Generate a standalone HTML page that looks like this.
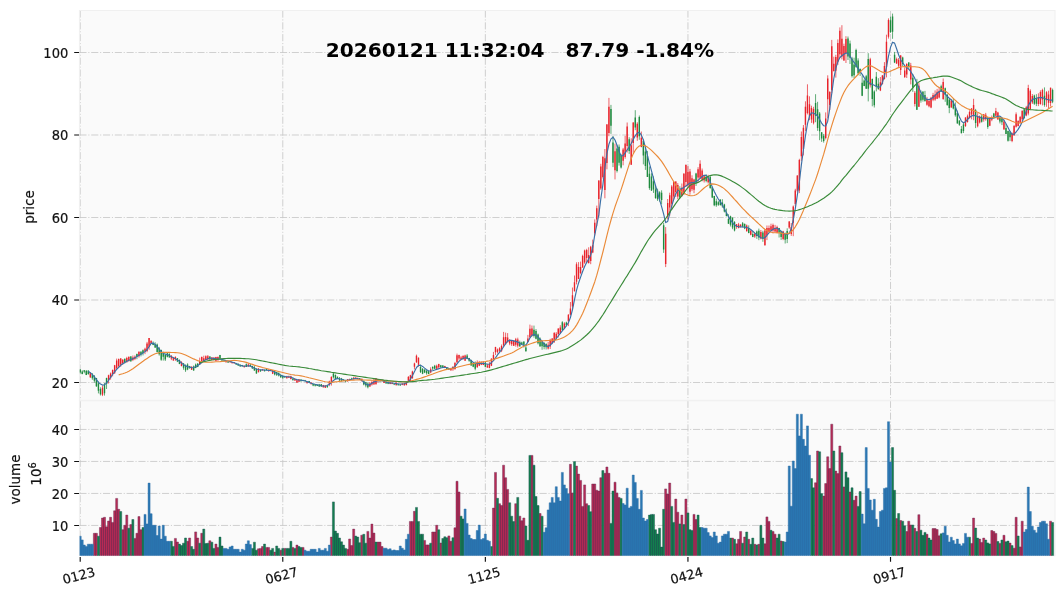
<!DOCTYPE html>
<html><head><meta charset="utf-8"><title>chart</title>
<style>html,body{margin:0;padding:0;background:#fff;}svg{display:block;will-change:transform;}</style>
</head><body>
<svg width="1064" height="598" viewBox="0 0 1064 598">
<rect width="1064" height="598" fill="#ffffff"/>
<rect x="79.4" y="10.5" width="975.6" height="389.8" fill="#fafafa"/>
<rect x="79.4" y="400.8" width="975.6" height="154.9" fill="#fafafa"/>
<path d="M79.4 382.50H1055.0 M79.4 300.00H1055.0 M79.4 217.50H1055.0 M79.4 135.00H1055.0 M79.4 52.50H1055.0 M79.4 525.45H1055.0 M79.4 493.45H1055.0 M79.4 461.45H1055.0 M79.4 429.45H1055.0 M80.20 10.5V400.3 M80.20 400.8V555.7 M282.78 10.5V400.3 M282.78 400.8V555.7 M485.36 10.5V400.3 M485.36 400.8V555.7 M687.94 10.5V400.3 M687.94 400.8V555.7 M890.52 10.5V400.3 M890.52 400.8V555.7" stroke="#c8c8c8" stroke-width="0.85" stroke-dasharray="7.1 1.8 1.1 1.8" fill="none"/>
<rect x="79.4" y="10.5" width="975.6" height="389.8" fill="none" stroke="#f0f0f0" stroke-width="1"/>
<rect x="79.4" y="400.8" width="975.6" height="154.9" fill="none" stroke="#f0f0f0" stroke-width="1"/>
<defs><clipPath id="cp"><rect x="79.6" y="10.5" width="975.4" height="545.2"/></clipPath></defs><g clip-path="url(#cp)">
<path d="M90.33 372.2V378.0M102.48 385.6V396.1M108.56 374.7V383.5M110.59 372.5V379.7M112.61 369.5V376.4M114.64 364.9V373.8M116.66 358.6V368.7M118.69 358.5V367.3M120.72 358.0V366.7M122.74 359.1V364.9M126.79 356.8V362.4M128.82 356.6V361.7M132.87 355.5V361.1M134.90 355.4V360.1M138.95 351.0V357.6M145.03 347.7V354.1M147.05 341.9V352.2M149.08 338.0V349.8M151.10 340.5V344.0M171.36 355.1V360.1M173.39 356.9V360.7M175.41 356.3V360.9M181.49 361.2V366.4M191.62 366.3V370.0M199.72 357.6V364.6M201.75 356.5V363.3M203.77 355.7V361.7M205.80 355.4V360.1M207.83 355.0V360.3M211.88 357.1V360.1M213.90 357.2V360.4M215.93 356.8V361.3M217.95 356.5V361.1M226.06 360.7V362.5M230.11 361.1V362.6M232.13 361.9V363.4M234.16 362.0V363.5M244.29 365.6V367.4M248.34 363.1V366.5M258.47 368.0V372.3M262.52 368.9V370.4M268.60 369.4V371.5M270.63 369.7V371.2M272.65 370.2V374.1M286.83 375.8V378.5M288.86 375.6V378.0M290.88 375.7V379.4M294.93 378.2V381.0M296.96 379.5V382.9M298.99 379.1V382.1M307.09 381.8V383.3M311.14 382.1V384.7M323.30 384.9V387.6M325.32 385.3V387.9M329.37 380.7V386.2M331.40 376.2V385.6M347.61 379.2V381.7M349.63 378.6V380.5M353.68 377.4V379.7M355.71 377.4V378.9M357.73 377.6V379.1M361.79 378.6V381.6M369.89 382.1V386.8M371.92 380.3V385.6M373.94 378.6V384.6M375.97 378.0V384.5M377.99 379.0V382.5M382.04 379.5V381.2M384.07 380.0V383.0M390.15 381.9V384.2M392.17 382.3V384.2M396.22 382.4V385.4M402.30 383.0V385.2M404.33 382.6V385.7M406.35 381.8V385.5M408.38 376.0V381.5M410.41 374.8V381.5M412.43 370.7V378.7M414.46 362.7V369.4M416.48 354.6V362.9M418.51 357.4V366.8M430.66 367.3V373.2M436.74 364.6V369.1M438.77 363.8V369.2M444.84 365.8V368.1M450.92 367.8V370.8M452.95 366.0V370.8M454.97 361.9V369.8M457.00 353.6V363.0M459.02 354.7V360.3M461.05 355.9V359.4M463.08 355.2V359.9M465.10 354.7V360.8M477.26 360.4V368.0M479.28 360.9V366.2M481.31 361.4V365.1M483.33 361.2V365.1M487.39 363.7V367.7M489.41 361.8V368.3M491.44 358.2V366.1M493.46 351.9V360.7M495.49 346.8V355.0M497.51 348.5V353.5M499.54 347.2V352.2M501.57 344.5V352.1M503.59 331.9V346.8M505.62 332.6V344.4M507.64 333.1V342.4M509.67 339.3V345.2M511.70 340.2V346.0M513.72 340.5V346.0M515.75 337.9V346.7M517.77 337.7V347.5M527.90 334.9V342.2M529.93 324.6V338.0M531.95 325.5V336.5M548.16 341.8V349.5M550.19 338.8V349.0M552.21 338.2V344.2M554.24 332.1V342.9M556.26 332.1V339.3M558.29 328.4V337.5M560.31 325.2V333.7M564.37 322.2V329.2M568.42 314.2V326.1M570.44 302.0V315.5M572.47 287.5V309.1M574.50 275.5V291.4M576.52 262.3V284.4M578.55 262.1V279.1M580.57 261.6V274.3M582.60 254.7V268.0M584.62 249.6V263.8M586.65 248.8V263.4M588.68 247.3V263.6M590.70 245.8V264.2M592.73 239.6V253.2M594.75 219.4V235.5M596.78 205.6V226.1M598.80 180.3V216.8M600.83 163.8V189.9M602.86 155.8V178.5M604.88 149.0V198.3M606.91 124.0V169.3M608.93 97.9V136.2M615.01 143.7V179.4M623.11 147.9V165.3M625.14 135.8V158.7M627.17 122.5V152.5M631.22 138.3V164.8M633.24 122.3V152.7M637.29 122.2V140.8M641.35 131.5V147.3M665.66 227.1V267.1M667.68 199.0V219.4M669.71 192.7V215.6M671.73 185.1V210.0M673.76 181.5V199.4M675.79 181.3V197.0M677.81 183.1V199.2M681.86 183.5V196.6M683.89 173.1V195.1M685.91 164.3V186.9M687.94 166.1V188.2M689.97 168.9V194.6M691.99 175.3V191.1M694.02 178.8V193.2M698.07 167.2V182.0M700.09 160.3V179.2M702.12 168.5V181.3M704.15 174.9V182.5M708.20 174.8V183.6M736.56 224.0V228.8M738.59 222.9V228.4M740.61 224.1V227.5M746.69 224.5V231.5M750.74 230.1V235.3M754.79 232.4V237.9M760.87 230.0V239.4M764.92 229.0V245.6M766.95 225.5V240.1M768.97 225.5V232.8M771.00 223.7V231.9M773.02 223.6V233.5M775.05 224.9V232.9M777.08 225.7V233.4M783.15 230.8V240.2M789.23 221.1V228.8M791.26 223.0V235.9M793.28 205.5V236.2M795.31 188.8V206.1M797.33 175.3V192.3M799.36 158.8V193.1M801.38 131.5V160.9M803.41 125.0V155.4M805.44 101.3V131.1M807.46 84.3V114.4M809.49 96.3V120.2M811.51 105.7V122.9M813.54 106.8V124.4M825.69 112.4V139.4M827.72 75.3V118.3M829.75 91.1V110.0M831.77 39.9V93.3M833.80 56.7V71.2M835.82 54.8V77.6M837.85 39.4V64.9M839.88 27.4V58.0M841.90 25.2V59.4M843.93 43.7V60.8M845.95 36.2V63.0M870.26 57.8V87.5M880.39 77.0V91.1M882.42 75.0V84.6M884.44 62.1V79.6M886.47 34.7V77.4M888.49 18.4V38.6M896.60 57.6V63.9M898.62 58.0V67.7M900.65 55.0V75.0M904.70 67.3V78.0M906.73 63.2V78.0M910.78 62.9V84.4M914.83 91.0V106.5M918.88 83.1V106.9M926.98 96.9V105.7M929.01 99.1V107.3M931.04 96.8V108.2M933.06 92.9V101.2M935.09 90.4V100.8M937.11 88.9V98.9M939.14 87.2V98.4M943.19 78.5V99.8M951.29 98.9V107.7M965.47 117.3V126.9M967.50 114.6V122.6M969.53 110.3V118.5M971.55 108.1V119.4M973.58 98.8V120.2M977.63 113.2V127.4M979.66 115.5V123.5M983.71 114.1V121.7M985.73 112.9V120.7M989.78 118.2V126.1M991.81 115.5V121.2M995.86 107.9V116.5M997.89 111.8V119.7M1003.96 119.5V129.5M1012.07 132.5V142.2M1014.09 125.0V135.8M1016.12 112.4V127.6M1018.15 120.7V126.5M1020.17 115.9V123.6M1022.20 110.5V121.6M1026.25 105.9V116.3M1028.27 84.8V115.3M1030.30 89.3V110.0M1032.33 94.0V104.0M1038.40 93.3V106.1M1040.43 90.3V104.7M1042.45 88.7V105.4M1046.51 91.2V106.8M1048.53 90.7V108.1M1050.56 87.6V106.5" stroke="#e8232b" stroke-width="0.7" fill="none"/>
<path d="M80.20 369.3V373.6M82.23 370.3V374.3M84.25 370.2V373.3M86.28 370.2V375.1M88.30 370.6V374.8M92.35 373.1V379.8M94.38 375.0V382.6M96.41 377.9V386.9M98.43 381.5V393.4M100.46 387.3V395.5M104.51 383.0V395.6M106.54 377.7V389.0M124.77 358.6V363.5M130.84 356.1V361.8M136.92 353.6V359.2M140.97 351.2V356.4M143.00 349.4V355.4M153.13 341.4V345.2M155.15 342.2V348.0M157.18 343.5V352.6M159.21 346.9V355.6M161.23 349.6V360.8M163.26 351.7V360.6M165.28 353.4V361.0M167.31 352.6V357.4M169.34 353.4V357.5M177.44 358.0V362.1M179.46 359.4V364.2M183.52 363.1V369.7M185.54 364.4V371.9M187.57 363.3V370.2M189.59 365.9V368.8M193.64 365.5V370.7M195.67 363.5V368.2M197.70 363.0V367.2M209.85 356.2V359.9M219.98 354.9V359.4M222.01 358.6V361.0M224.03 360.0V361.7M228.08 360.9V363.0M236.19 362.9V364.9M238.21 363.6V365.9M240.24 364.2V366.6M242.26 364.9V366.4M246.32 363.4V367.0M250.37 364.0V366.5M252.39 365.7V368.7M254.42 365.5V370.8M256.44 368.1V373.7M260.50 369.3V371.9M264.55 369.5V371.4M266.57 369.0V370.5M274.68 371.0V375.4M276.70 371.9V376.0M278.73 372.7V376.5M280.75 373.8V377.9M282.78 375.3V378.8M284.81 375.8V377.9M292.91 377.6V380.4M301.01 379.5V381.9M303.04 379.7V381.2M305.06 379.9V381.4M309.12 380.9V382.4M313.17 383.9V386.2M315.19 384.0V386.5M317.22 384.6V386.1M319.24 383.9V386.9M321.27 384.0V386.8M327.35 384.7V387.7M333.42 373.0V378.5M335.45 374.4V379.3M337.48 376.6V379.0M339.50 377.0V380.9M341.53 377.9V381.6M343.55 379.3V380.8M345.58 380.1V382.2M351.66 377.7V379.8M359.76 378.0V380.0M363.81 380.7V385.3M365.84 381.8V387.3M367.86 382.6V388.4M380.02 379.9V381.4M386.10 380.9V383.6M388.12 381.5V384.2M394.20 383.4V385.1M398.25 383.7V385.4M400.28 384.0V385.7M420.53 364.6V373.0M422.56 368.0V374.2M424.59 369.6V373.1M426.61 370.5V374.7M428.64 370.7V374.1M432.69 366.6V370.1M434.71 364.9V368.9M440.79 364.9V367.9M442.82 365.1V368.1M446.87 367.0V369.3M448.90 368.2V369.9M467.13 354.1V359.2M469.15 357.9V361.8M471.18 359.6V365.7M473.21 362.3V367.2M475.23 361.4V370.3M485.36 361.8V367.0M519.80 340.7V346.9M521.82 341.7V345.0M523.85 341.5V347.5M525.88 344.2V351.6M533.98 325.6V337.6M536.00 329.1V339.3M538.03 333.6V344.4M540.06 337.4V346.9M542.08 340.5V349.8M544.11 342.1V349.3M546.13 343.2V349.5M562.34 321.2V330.9M566.39 321.7V326.2M610.96 104.9V133.9M612.99 136.0V167.1M617.04 144.9V172.5M619.06 144.5V165.6M621.09 153.9V168.5M629.19 137.2V153.9M635.27 110.2V130.2M639.32 115.5V139.8M643.37 139.4V164.4M645.40 145.5V169.9M647.42 150.9V176.9M649.45 166.5V189.8M651.48 173.2V191.0M653.50 176.4V192.9M655.53 185.3V198.8M657.55 188.6V200.9M659.58 191.2V201.6M661.60 190.3V204.3M663.63 222.8V252.9M679.84 186.2V198.5M696.04 172.8V186.0M706.17 174.3V182.3M710.22 175.1V188.8M712.25 186.4V198.1M714.28 195.8V206.2M716.30 198.6V206.8M718.33 200.8V205.9M720.35 199.1V205.7M722.38 199.2V207.8M724.40 203.8V212.4M726.43 208.5V216.4M728.46 214.2V223.8M730.48 215.7V226.5M732.51 217.5V229.2M734.53 221.1V231.4M742.64 222.0V227.5M744.66 223.4V229.2M748.71 225.4V233.3M752.77 231.0V237.2M756.82 230.5V238.9M758.84 228.6V240.2M762.89 230.8V241.8M779.10 227.9V237.5M781.13 230.8V239.9M785.18 232.6V243.5M787.20 228.3V243.1M815.57 94.2V122.2M817.59 101.8V130.8M819.62 112.0V140.2M821.64 132.2V141.9M823.67 133.9V142.6M847.98 36.5V60.0M850.00 40.6V64.0M852.03 56.8V77.5M854.06 57.7V78.0M856.08 48.7V67.8M858.11 58.3V75.2M860.13 68.4V76.0M862.16 75.4V96.1M864.18 79.2V86.2M866.21 74.9V88.8M868.24 53.2V101.4M872.29 78.5V106.3M874.31 90.3V107.5M876.34 72.0V91.4M878.37 78.2V89.8M890.52 16.7V32.9M892.55 13.6V38.8M894.57 51.9V63.1M902.67 56.7V66.2M908.75 62.1V69.6M912.80 74.2V91.9M916.86 78.9V110.0M920.91 90.4V102.7M922.93 91.1V101.6M924.96 90.9V101.3M941.16 84.7V91.4M945.22 87.6V101.8M947.24 94.1V105.8M949.27 98.6V113.2M953.32 98.3V109.4M955.35 102.4V116.7M957.37 110.6V123.5M959.40 120.4V125.8M961.42 126.0V133.3M963.45 122.9V133.0M975.60 108.9V128.1M981.68 115.0V122.6M987.76 117.0V128.8M993.84 112.9V118.4M999.91 116.2V123.4M1001.94 117.4V125.1M1005.99 124.0V134.0M1008.02 130.6V141.6M1010.04 130.9V141.1M1024.22 108.2V118.4M1034.35 94.7V104.9M1036.38 94.2V106.1M1044.48 87.4V106.7M1052.58 88.6V103.2" stroke="#1e8a3e" stroke-width="0.7" fill="none"/>
<path d="M89.63 373.1h1.4V377.2h-1.4zM101.78 387.7h1.4V394.8h-1.4zM107.86 375.3h1.4V380.3h-1.4zM109.89 373.5h1.4V377.8h-1.4zM111.91 369.9h1.4V373.9h-1.4zM113.94 365.3h1.4V373.2h-1.4zM115.96 360.5h1.4V368.6h-1.4zM117.99 358.9h1.4V366.2h-1.4zM120.02 358.6h1.4V364.8h-1.4zM122.04 359.8h1.4V362.9h-1.4zM126.09 357.9h1.4V362.2h-1.4zM128.12 356.8h1.4V360.9h-1.4zM132.17 357.4h1.4V360.0h-1.4zM134.20 356.7h1.4V358.9h-1.4zM138.25 351.9h1.4V356.2h-1.4zM144.33 348.7h1.4V351.6h-1.4zM146.35 343.6h1.4V351.1h-1.4zM148.38 338.1h1.4V346.7h-1.4zM150.40 340.7h1.4V343.2h-1.4zM170.66 355.8h1.4V358.4h-1.4zM172.69 357.5h1.4V360.6h-1.4zM174.71 357.0h1.4V359.3h-1.4zM180.79 362.1h1.4V366.1h-1.4zM190.92 366.7h1.4V369.8h-1.4zM199.02 361.0h1.4V364.3h-1.4zM201.05 356.9h1.4V360.9h-1.4zM203.07 358.3h1.4V361.1h-1.4zM205.10 356.3h1.4V360.0h-1.4zM207.13 356.2h1.4V359.6h-1.4zM211.18 357.4h1.4V359.9h-1.4zM213.20 357.8h1.4V360.0h-1.4zM215.23 357.0h1.4V360.7h-1.4zM217.25 357.1h1.4V359.9h-1.4zM225.36 361.3h1.4V362.3h-1.4zM229.41 361.5h1.4V362.3h-1.4zM231.44 362.1h1.4V363.3h-1.4zM233.46 362.1h1.4V363.2h-1.4zM243.59 365.8h1.4V367.2h-1.4zM247.64 364.4h1.4V366.5h-1.4zM257.77 368.8h1.4V372.2h-1.4zM261.82 369.6h1.4V370.4h-1.4zM267.90 369.8h1.4V371.2h-1.4zM269.93 369.9h1.4V370.7h-1.4zM271.95 370.3h1.4V373.7h-1.4zM286.13 376.4h1.4V378.2h-1.4zM288.16 376.7h1.4V377.8h-1.4zM290.18 376.2h1.4V379.0h-1.4zM294.23 379.0h1.4V380.5h-1.4zM296.26 380.2h1.4V382.6h-1.4zM298.29 379.3h1.4V381.8h-1.4zM306.39 382.2h1.4V383.2h-1.4zM310.44 382.4h1.4V383.8h-1.4zM322.60 385.1h1.4V387.3h-1.4zM324.62 385.6h1.4V387.7h-1.4zM328.67 381.4h1.4V384.2h-1.4zM330.70 377.0h1.4V383.1h-1.4zM346.91 379.2h1.4V381.2h-1.4zM348.93 379.4h1.4V380.4h-1.4zM352.98 377.6h1.4V379.3h-1.4zM355.01 377.6h1.4V378.7h-1.4zM357.03 378.0h1.4V379.0h-1.4zM361.09 378.7h1.4V380.3h-1.4zM369.19 383.4h1.4V386.6h-1.4zM371.22 381.9h1.4V384.5h-1.4zM373.24 381.2h1.4V384.5h-1.4zM375.27 378.5h1.4V384.2h-1.4zM377.29 379.1h1.4V381.1h-1.4zM381.34 379.8h1.4V380.6h-1.4zM383.37 380.3h1.4V382.9h-1.4zM389.45 382.6h1.4V384.1h-1.4zM391.47 383.1h1.4V384.1h-1.4zM395.52 382.6h1.4V385.2h-1.4zM401.60 383.7h1.4V384.8h-1.4zM403.63 383.3h1.4V385.3h-1.4zM405.65 381.9h1.4V385.0h-1.4zM407.68 377.1h1.4V380.8h-1.4zM409.71 375.2h1.4V380.7h-1.4zM411.73 371.6h1.4V378.2h-1.4zM413.76 363.4h1.4V366.8h-1.4zM415.78 355.8h1.4V362.3h-1.4zM417.81 357.7h1.4V364.8h-1.4zM429.96 369.2h1.4V372.4h-1.4zM436.04 365.8h1.4V368.8h-1.4zM438.07 363.9h1.4V367.3h-1.4zM444.14 366.1h1.4V367.7h-1.4zM450.22 368.0h1.4V370.3h-1.4zM452.25 367.0h1.4V369.2h-1.4zM454.27 363.1h1.4V368.9h-1.4zM456.30 355.2h1.4V362.2h-1.4zM458.32 355.0h1.4V358.5h-1.4zM460.35 357.5h1.4V359.2h-1.4zM462.38 356.1h1.4V358.8h-1.4zM464.40 355.6h1.4V360.7h-1.4zM476.56 362.2h1.4V367.1h-1.4zM478.58 362.7h1.4V365.8h-1.4zM480.61 362.8h1.4V364.8h-1.4zM482.63 362.7h1.4V365.0h-1.4zM486.69 365.4h1.4V367.6h-1.4zM488.71 364.0h1.4V368.1h-1.4zM490.74 358.8h1.4V365.8h-1.4zM492.76 355.0h1.4V358.9h-1.4zM494.79 347.0h1.4V352.2h-1.4zM496.81 349.6h1.4V352.0h-1.4zM498.84 348.3h1.4V350.7h-1.4zM500.87 346.0h1.4V350.7h-1.4zM502.89 337.3h1.4V345.4h-1.4zM504.92 337.0h1.4V344.2h-1.4zM506.94 337.4h1.4V342.3h-1.4zM508.97 339.8h1.4V343.4h-1.4zM511.00 340.9h1.4V344.2h-1.4zM513.02 340.8h1.4V345.8h-1.4zM515.05 339.3h1.4V344.7h-1.4zM517.07 339.4h1.4V345.8h-1.4zM527.20 338.5h1.4V342.1h-1.4zM529.23 328.7h1.4V337.2h-1.4zM531.25 328.4h1.4V335.4h-1.4zM547.46 344.8h1.4V348.4h-1.4zM549.49 340.0h1.4V346.5h-1.4zM551.51 338.4h1.4V343.3h-1.4zM553.54 333.0h1.4V341.4h-1.4zM555.56 333.7h1.4V338.0h-1.4zM557.59 328.4h1.4V334.3h-1.4zM559.61 327.4h1.4V333.2h-1.4zM563.67 323.4h1.4V328.7h-1.4zM567.72 314.7h1.4V321.3h-1.4zM569.74 308.6h1.4V314.7h-1.4zM571.77 295.2h1.4V306.6h-1.4zM573.80 282.2h1.4V291.3h-1.4zM575.82 264.3h1.4V281.8h-1.4zM577.85 267.0h1.4V279.0h-1.4zM579.87 267.0h1.4V272.9h-1.4zM581.90 256.0h1.4V267.2h-1.4zM583.92 250.6h1.4V262.5h-1.4zM585.95 250.1h1.4V258.1h-1.4zM587.98 255.1h1.4V263.0h-1.4zM590.00 246.7h1.4V261.0h-1.4zM592.03 245.3h1.4V252.5h-1.4zM594.05 222.7h1.4V233.3h-1.4zM596.08 208.3h1.4V219.5h-1.4zM598.10 180.6h1.4V199.1h-1.4zM600.13 166.5h1.4V188.6h-1.4zM602.16 157.0h1.4V176.9h-1.4zM604.18 158.2h1.4V190.1h-1.4zM606.21 124.5h1.4V163.0h-1.4zM608.23 106.7h1.4V133.0h-1.4zM614.31 151.3h1.4V170.2h-1.4zM622.41 149.5h1.4V160.7h-1.4zM624.44 143.6h1.4V156.9h-1.4zM626.47 126.6h1.4V145.9h-1.4zM630.52 145.3h1.4V164.7h-1.4zM632.54 122.5h1.4V142.9h-1.4zM636.59 123.8h1.4V137.5h-1.4zM640.65 137.8h1.4V146.9h-1.4zM664.96 233.8h1.4V263.9h-1.4zM666.98 203.0h1.4V216.4h-1.4zM669.01 195.3h1.4V207.6h-1.4zM671.03 186.6h1.4V203.7h-1.4zM673.06 181.7h1.4V196.5h-1.4zM675.09 181.5h1.4V192.1h-1.4zM677.11 184.9h1.4V196.4h-1.4zM681.16 187.8h1.4V195.8h-1.4zM683.19 173.8h1.4V192.9h-1.4zM685.21 165.0h1.4V182.0h-1.4zM687.24 171.8h1.4V185.6h-1.4zM689.27 171.4h1.4V191.7h-1.4zM691.29 178.3h1.4V189.2h-1.4zM693.32 179.5h1.4V189.8h-1.4zM697.37 169.3h1.4V177.4h-1.4zM699.39 163.7h1.4V177.8h-1.4zM701.42 170.4h1.4V179.7h-1.4zM703.45 176.2h1.4V180.4h-1.4zM707.50 177.5h1.4V182.3h-1.4zM735.86 224.3h1.4V226.7h-1.4zM737.88 224.6h1.4V227.9h-1.4zM739.91 224.7h1.4V226.4h-1.4zM745.99 225.6h1.4V231.2h-1.4zM750.04 230.8h1.4V234.8h-1.4zM754.09 233.8h1.4V236.6h-1.4zM760.17 231.9h1.4V238.5h-1.4zM764.22 230.5h1.4V245.2h-1.4zM766.25 228.0h1.4V235.0h-1.4zM768.27 227.9h1.4V232.1h-1.4zM770.30 226.2h1.4V230.3h-1.4zM772.32 225.1h1.4V230.5h-1.4zM774.35 227.9h1.4V231.5h-1.4zM776.38 227.0h1.4V232.7h-1.4zM782.45 231.5h1.4V239.0h-1.4zM788.53 221.6h1.4V227.6h-1.4zM790.56 226.9h1.4V234.0h-1.4zM792.58 206.4h1.4V222.8h-1.4zM794.61 190.5h1.4V204.1h-1.4zM796.63 175.6h1.4V190.8h-1.4zM798.66 160.0h1.4V190.4h-1.4zM800.68 137.0h1.4V156.3h-1.4zM802.71 127.7h1.4V149.2h-1.4zM804.74 106.8h1.4V124.8h-1.4zM806.76 95.4h1.4V113.0h-1.4zM808.79 104.2h1.4V116.2h-1.4zM810.81 107.9h1.4V119.6h-1.4zM812.84 109.0h1.4V122.7h-1.4zM824.99 118.4h1.4V138.0h-1.4zM827.02 78.6h1.4V99.2h-1.4zM829.05 91.9h1.4V104.9h-1.4zM831.07 46.2h1.4V90.3h-1.4zM833.10 63.7h1.4V71.2h-1.4zM835.12 56.9h1.4V70.8h-1.4zM837.15 43.1h1.4V61.8h-1.4zM839.17 30.7h1.4V54.3h-1.4zM841.20 38.8h1.4V56.5h-1.4zM843.23 45.9h1.4V60.6h-1.4zM845.25 38.9h1.4V53.0h-1.4zM869.56 59.3h1.4V85.2h-1.4zM879.69 82.3h1.4V90.5h-1.4zM881.72 75.5h1.4V84.1h-1.4zM883.74 66.0h1.4V79.1h-1.4zM885.77 41.7h1.4V67.3h-1.4zM887.79 20.0h1.4V36.7h-1.4zM895.90 59.0h1.4V63.6h-1.4zM897.92 59.7h1.4V65.8h-1.4zM899.95 55.4h1.4V70.1h-1.4zM904.00 70.4h1.4V77.1h-1.4zM906.03 64.1h1.4V74.4h-1.4zM910.08 65.5h1.4V79.5h-1.4zM914.13 92.8h1.4V104.1h-1.4zM918.18 85.7h1.4V106.7h-1.4zM926.28 98.9h1.4V104.8h-1.4zM928.31 101.1h1.4V106.3h-1.4zM930.34 97.7h1.4V107.5h-1.4zM932.36 95.1h1.4V99.8h-1.4zM934.39 94.6h1.4V99.6h-1.4zM936.41 91.7h1.4V98.7h-1.4zM938.44 90.7h1.4V97.5h-1.4zM942.49 82.0h1.4V99.0h-1.4zM950.59 100.4h1.4V107.6h-1.4zM964.77 117.5h1.4V126.1h-1.4zM966.80 116.3h1.4V121.9h-1.4zM968.83 111.9h1.4V118.1h-1.4zM970.85 108.6h1.4V114.4h-1.4zM972.88 105.1h1.4V115.8h-1.4zM976.93 116.5h1.4V126.3h-1.4zM978.96 116.3h1.4V122.6h-1.4zM983.01 114.3h1.4V119.4h-1.4zM985.03 114.8h1.4V119.3h-1.4zM989.08 118.8h1.4V125.8h-1.4zM991.11 116.9h1.4V119.8h-1.4zM995.16 110.9h1.4V115.7h-1.4zM997.19 112.4h1.4V119.4h-1.4zM1003.26 121.6h1.4V129.4h-1.4zM1011.37 133.5h1.4V141.1h-1.4zM1013.39 125.9h1.4V135.2h-1.4zM1015.42 114.3h1.4V126.7h-1.4zM1017.45 120.8h1.4V125.9h-1.4zM1019.47 117.0h1.4V122.8h-1.4zM1021.50 110.7h1.4V119.2h-1.4zM1025.55 107.2h1.4V115.6h-1.4zM1027.57 87.9h1.4V113.4h-1.4zM1029.60 90.7h1.4V108.9h-1.4zM1031.63 96.0h1.4V102.4h-1.4zM1037.70 97.0h1.4V103.9h-1.4zM1039.73 92.1h1.4V104.0h-1.4zM1041.75 89.9h1.4V99.6h-1.4zM1045.81 92.3h1.4V100.3h-1.4zM1047.83 94.5h1.4V102.8h-1.4zM1049.86 87.8h1.4V102.9h-1.4z" fill="#e8232b"/>
<path d="M79.50 369.4h1.4V372.6h-1.4zM81.53 371.5h1.4V373.9h-1.4zM83.55 370.3h1.4V371.8h-1.4zM85.58 370.7h1.4V375.1h-1.4zM87.60 370.6h1.4V374.1h-1.4zM91.65 374.5h1.4V378.2h-1.4zM93.68 376.3h1.4V380.7h-1.4zM95.71 378.1h1.4V386.2h-1.4zM97.73 383.2h1.4V390.8h-1.4zM99.76 388.9h1.4V394.3h-1.4zM103.81 384.4h1.4V393.3h-1.4zM105.84 378.0h1.4V383.9h-1.4zM124.07 358.7h1.4V362.6h-1.4zM130.15 356.6h1.4V361.2h-1.4zM136.22 354.0h1.4V356.6h-1.4zM140.27 351.7h1.4V354.3h-1.4zM142.30 350.2h1.4V353.0h-1.4zM152.43 342.9h1.4V345.0h-1.4zM154.45 344.4h1.4V347.4h-1.4zM156.48 344.5h1.4V352.1h-1.4zM158.51 348.5h1.4V354.3h-1.4zM160.53 350.0h1.4V359.8h-1.4zM162.56 352.7h1.4V356.7h-1.4zM164.58 355.1h1.4V359.4h-1.4zM166.61 353.2h1.4V356.8h-1.4zM168.64 353.8h1.4V357.5h-1.4zM176.74 358.3h1.4V361.6h-1.4zM178.76 359.9h1.4V364.1h-1.4zM182.82 363.5h1.4V367.7h-1.4zM184.84 365.6h1.4V370.2h-1.4zM186.87 364.5h1.4V369.6h-1.4zM188.89 366.0h1.4V367.5h-1.4zM192.94 366.6h1.4V370.4h-1.4zM194.97 364.4h1.4V368.1h-1.4zM197.00 363.7h1.4V367.1h-1.4zM209.15 356.4h1.4V359.3h-1.4zM219.28 355.0h1.4V358.4h-1.4zM221.31 359.4h1.4V360.6h-1.4zM223.33 360.4h1.4V361.3h-1.4zM227.38 361.4h1.4V362.6h-1.4zM235.49 363.5h1.4V364.6h-1.4zM237.51 363.7h1.4V365.4h-1.4zM239.54 364.9h1.4V366.4h-1.4zM241.56 365.3h1.4V366.3h-1.4zM245.62 364.2h1.4V367.0h-1.4zM249.67 364.7h1.4V366.3h-1.4zM251.69 365.9h1.4V368.6h-1.4zM253.72 367.3h1.4V370.4h-1.4zM255.74 369.1h1.4V373.6h-1.4zM259.80 370.0h1.4V371.3h-1.4zM263.85 369.9h1.4V371.3h-1.4zM265.87 369.1h1.4V370.1h-1.4zM273.98 371.3h1.4V374.4h-1.4zM276.00 371.9h1.4V374.8h-1.4zM278.03 372.8h1.4V375.5h-1.4zM280.05 375.2h1.4V377.3h-1.4zM282.08 375.8h1.4V377.8h-1.4zM284.11 376.0h1.4V377.3h-1.4zM292.21 378.8h1.4V380.2h-1.4zM300.31 379.6h1.4V380.7h-1.4zM302.34 380.0h1.4V380.8h-1.4zM304.36 379.9h1.4V380.8h-1.4zM308.42 381.0h1.4V382.0h-1.4zM312.47 384.0h1.4V385.5h-1.4zM314.49 384.0h1.4V385.7h-1.4zM316.52 384.7h1.4V386.0h-1.4zM318.54 384.6h1.4V386.6h-1.4zM320.57 384.3h1.4V386.5h-1.4zM326.65 385.5h1.4V387.3h-1.4zM332.72 373.7h1.4V377.3h-1.4zM334.75 375.1h1.4V379.1h-1.4zM336.78 376.7h1.4V378.7h-1.4zM338.80 378.8h1.4V380.6h-1.4zM340.83 378.6h1.4V380.8h-1.4zM342.85 379.5h1.4V380.8h-1.4zM344.88 380.5h1.4V381.6h-1.4zM350.96 378.5h1.4V379.7h-1.4zM359.06 378.2h1.4V379.4h-1.4zM363.11 380.8h1.4V384.4h-1.4zM365.14 382.3h1.4V385.5h-1.4zM367.16 383.5h1.4V387.3h-1.4zM379.32 379.9h1.4V381.2h-1.4zM385.40 381.5h1.4V383.4h-1.4zM387.42 382.2h1.4V383.8h-1.4zM393.50 383.6h1.4V384.5h-1.4zM397.55 384.2h1.4V385.3h-1.4zM399.58 384.4h1.4V385.6h-1.4zM419.83 367.0h1.4V372.1h-1.4zM421.86 369.0h1.4V373.8h-1.4zM423.89 369.6h1.4V372.6h-1.4zM425.91 370.6h1.4V373.3h-1.4zM427.94 371.2h1.4V374.0h-1.4zM431.99 366.8h1.4V368.5h-1.4zM434.01 365.8h1.4V368.7h-1.4zM440.09 365.3h1.4V367.3h-1.4zM442.12 365.6h1.4V368.0h-1.4zM446.17 367.2h1.4V369.1h-1.4zM448.20 368.5h1.4V369.7h-1.4zM466.43 355.5h1.4V359.1h-1.4zM468.45 358.1h1.4V360.7h-1.4zM470.48 360.1h1.4V365.4h-1.4zM472.51 363.3h1.4V366.7h-1.4zM474.53 363.0h1.4V368.8h-1.4zM484.66 362.6h1.4V366.8h-1.4zM519.10 342.2h1.4V346.2h-1.4zM521.12 342.6h1.4V344.3h-1.4zM523.15 341.6h1.4V344.7h-1.4zM525.18 347.5h1.4V351.2h-1.4zM533.28 329.7h1.4V336.0h-1.4zM535.30 331.0h1.4V338.8h-1.4zM537.33 334.6h1.4V343.3h-1.4zM539.36 338.7h1.4V346.2h-1.4zM541.38 341.8h1.4V346.3h-1.4zM543.41 343.1h1.4V347.1h-1.4zM545.43 344.1h1.4V347.3h-1.4zM561.64 322.2h1.4V330.0h-1.4zM565.69 322.5h1.4V325.2h-1.4zM610.26 108.9h1.4V125.8h-1.4zM612.29 142.4h1.4V162.8h-1.4zM616.34 148.4h1.4V171.1h-1.4zM618.36 146.8h1.4V162.7h-1.4zM620.39 155.4h1.4V167.4h-1.4zM628.49 139.2h1.4V151.0h-1.4zM634.57 117.5h1.4V127.6h-1.4zM638.62 117.1h1.4V136.3h-1.4zM642.67 141.0h1.4V155.4h-1.4zM644.70 151.5h1.4V166.1h-1.4zM646.72 155.7h1.4V176.9h-1.4zM648.75 173.8h1.4V187.9h-1.4zM650.78 176.4h1.4V190.5h-1.4zM652.80 181.3h1.4V189.4h-1.4zM654.83 189.4h1.4V198.0h-1.4zM656.85 190.8h1.4V199.2h-1.4zM658.88 192.2h1.4V198.8h-1.4zM660.90 192.8h1.4V199.9h-1.4zM662.93 225.3h1.4V249.5h-1.4zM679.14 188.9h1.4V197.6h-1.4zM695.34 173.6h1.4V182.7h-1.4zM705.47 176.8h1.4V180.9h-1.4zM709.52 177.0h1.4V188.0h-1.4zM711.55 187.2h1.4V197.6h-1.4zM713.58 196.1h1.4V205.2h-1.4zM715.60 201.3h1.4V205.3h-1.4zM717.63 202.3h1.4V204.8h-1.4zM719.65 199.7h1.4V205.0h-1.4zM721.68 202.4h1.4V206.3h-1.4zM723.70 204.4h1.4V211.4h-1.4zM725.73 212.4h1.4V216.1h-1.4zM727.76 219.0h1.4V223.7h-1.4zM729.78 216.2h1.4V224.8h-1.4zM731.81 217.7h1.4V227.4h-1.4zM733.83 221.9h1.4V230.6h-1.4zM741.94 223.3h1.4V226.8h-1.4zM743.96 224.0h1.4V228.6h-1.4zM748.01 227.9h1.4V233.0h-1.4zM752.07 234.1h1.4V237.1h-1.4zM756.12 231.6h1.4V236.1h-1.4zM758.14 230.7h1.4V237.6h-1.4zM762.19 232.6h1.4V238.7h-1.4zM778.40 228.1h1.4V232.6h-1.4zM780.43 230.9h1.4V237.0h-1.4zM784.48 233.9h1.4V239.8h-1.4zM786.50 231.1h1.4V239.1h-1.4zM814.87 103.1h1.4V115.7h-1.4zM816.89 109.2h1.4V128.0h-1.4zM818.92 113.4h1.4V131.2h-1.4zM820.94 132.3h1.4V138.6h-1.4zM822.97 135.7h1.4V141.1h-1.4zM847.28 38.5h1.4V56.5h-1.4zM849.30 43.6h1.4V57.8h-1.4zM851.33 58.5h1.4V76.0h-1.4zM853.36 64.6h1.4V75.3h-1.4zM855.38 49.9h1.4V67.0h-1.4zM857.41 60.6h1.4V73.3h-1.4zM859.43 68.9h1.4V73.1h-1.4zM861.46 82.8h1.4V95.7h-1.4zM863.48 80.6h1.4V86.0h-1.4zM865.51 76.2h1.4V88.7h-1.4zM867.54 58.9h1.4V88.8h-1.4zM871.59 79.0h1.4V98.9h-1.4zM873.61 91.4h1.4V105.2h-1.4zM875.64 76.7h1.4V86.2h-1.4zM877.67 83.8h1.4V89.1h-1.4zM889.82 20.2h1.4V32.1h-1.4zM891.85 16.6h1.4V31.7h-1.4zM893.87 54.7h1.4V62.5h-1.4zM901.97 57.5h1.4V64.1h-1.4zM908.05 62.6h1.4V67.0h-1.4zM912.10 77.7h1.4V87.5h-1.4zM916.16 83.7h1.4V109.8h-1.4zM920.21 94.3h1.4V100.5h-1.4zM922.23 91.8h1.4V99.8h-1.4zM924.26 95.0h1.4V101.3h-1.4zM940.46 86.3h1.4V91.4h-1.4zM944.52 88.2h1.4V94.8h-1.4zM946.54 94.7h1.4V105.0h-1.4zM948.57 99.4h1.4V108.0h-1.4zM952.62 101.6h1.4V108.5h-1.4zM954.65 106.9h1.4V115.3h-1.4zM956.67 113.1h1.4V123.4h-1.4zM958.70 120.4h1.4V124.7h-1.4zM960.72 129.1h1.4V133.3h-1.4zM962.75 124.5h1.4V131.0h-1.4zM974.90 109.9h1.4V123.0h-1.4zM980.98 116.6h1.4V121.8h-1.4zM987.06 118.1h1.4V127.1h-1.4zM993.14 113.4h1.4V117.2h-1.4zM999.21 117.8h1.4V121.6h-1.4zM1001.24 118.3h1.4V122.2h-1.4zM1005.29 128.0h1.4V133.9h-1.4zM1007.32 131.1h1.4V140.8h-1.4zM1009.34 132.3h1.4V137.2h-1.4zM1023.52 109.3h1.4V118.2h-1.4zM1033.65 95.4h1.4V103.8h-1.4zM1035.68 98.2h1.4V103.8h-1.4zM1043.78 95.7h1.4V104.9h-1.4zM1051.88 90.1h1.4V101.7h-1.4z" fill="#1e8a3e"/>
<path d="M88.3 371.3L90.3 372.7L92.4 374.7L94.4 377.0L96.4 379.6L98.4 382.2L100.5 384.1L102.5 385.1L104.5 384.8L106.5 383.1L108.6 380.3L110.6 377.3L112.6 374.5L114.6 371.9L116.7 369.4L118.7 367.3L120.7 365.3L122.7 363.8L124.8 362.4L126.8 361.3L128.8 360.3L130.8 359.4L132.9 358.6L134.9 357.7L136.9 356.5L138.9 355.3L141.0 354.2L143.0 353.0L145.0 351.6L147.1 349.5L149.1 346.6L151.1 343.4L153.1 343.1L155.2 344.4L157.2 346.6L159.2 349.2L161.2 351.6L163.3 353.3L165.3 354.3L167.3 354.6L169.3 355.5L171.4 356.7L173.4 357.8L175.4 358.8L177.4 359.9L179.5 361.3L181.5 363.0L183.5 364.6L185.5 365.9L187.6 366.6L189.6 367.1L191.6 367.8L193.6 367.5L195.7 366.8L197.7 365.5L199.7 364.3L201.7 362.6L203.8 360.8L205.8 359.7L207.8 358.8L209.9 358.2L211.9 358.2L213.9 358.4L215.9 358.8L218.0 359.0L220.0 359.1L222.0 359.4L224.0 360.0L226.1 360.6L228.1 361.0L230.1 361.4L232.1 362.1L234.2 362.7L236.2 363.5L238.2 364.4L240.2 365.3L242.3 365.9L244.3 366.2L246.3 366.0L248.3 365.9L250.4 366.1L252.4 367.2L254.4 368.3L256.4 369.0L258.5 369.5L260.5 369.8L262.5 369.8L264.5 370.0L266.6 370.2L268.6 370.4L270.6 370.5L272.7 371.3L274.7 372.3L276.7 373.4L278.7 374.4L280.8 375.3L282.8 376.1L284.8 376.6L286.8 376.7L288.9 376.8L290.9 377.2L292.9 378.1L294.9 379.0L297.0 379.6L299.0 380.0L301.0 380.2L303.0 380.5L305.1 381.0L307.1 381.6L309.1 382.4L311.1 383.2L313.2 383.8L315.2 384.3L317.2 384.7L319.2 385.3L321.3 385.8L323.3 386.1L325.3 386.0L327.3 385.5L329.4 384.3L331.4 382.5L333.4 380.5L335.5 379.1L337.5 378.6L339.5 378.7L341.5 379.3L343.6 380.0L345.6 380.4L347.6 380.3L349.6 379.8L351.7 379.2L353.7 378.7L355.7 378.5L357.7 378.7L359.8 379.3L361.8 380.4L363.8 382.2L365.8 384.0L367.9 385.1L369.9 384.6L371.9 383.3L373.9 382.0L376.0 381.1L378.0 380.8L380.0 380.6L382.0 380.8L384.1 381.3L386.1 382.0L388.1 382.6L390.1 382.9L392.2 383.0L394.2 383.2L396.2 383.6L398.3 383.9L400.3 384.0L402.3 384.0L404.3 383.7L406.4 383.0L408.4 381.6L410.4 379.3L412.4 375.7L414.5 371.4L416.5 367.5L418.5 365.4L420.5 365.3L422.6 366.4L424.6 368.1L426.6 369.7L428.6 370.8L430.7 371.0L432.7 370.7L434.7 370.0L436.7 369.4L438.8 368.7L440.8 368.0L442.8 367.5L444.8 367.3L446.9 367.7L448.9 368.2L450.9 368.5L452.9 368.1L455.0 366.7L457.0 363.9L459.0 361.4L461.1 359.5L463.1 358.5L465.1 357.9L467.1 357.9L469.2 359.2L471.2 360.8L473.2 362.3L475.2 363.4L477.3 363.6L479.3 363.5L481.3 363.3L483.3 363.4L485.4 363.8L487.4 364.3L489.4 364.0L491.4 362.7L493.5 360.6L495.5 357.9L497.5 354.9L499.5 352.3L501.6 349.7L503.6 346.7L505.6 343.6L507.6 341.1L509.7 340.2L511.7 340.4L513.7 340.9L515.7 341.4L517.8 342.1L519.8 343.2L521.8 344.4L523.9 345.4L525.9 345.2L527.9 341.9L529.9 338.0L532.0 335.3L534.0 334.4L536.0 335.2L538.0 337.1L540.1 339.1L542.1 341.3L544.1 344.1L546.1 346.2L548.2 346.4L550.2 345.3L552.2 343.0L554.2 340.8L556.3 338.5L558.3 336.0L560.3 333.4L562.3 330.9L564.4 328.4L566.4 325.8L568.4 322.7L570.4 317.6L572.5 309.6L574.5 299.6L576.5 290.4L578.5 283.2L580.6 277.1L582.6 271.5L584.6 266.5L586.6 262.6L588.7 259.0L590.7 254.9L592.7 247.5L594.8 234.6L596.8 225.0L598.8 214.9L600.8 199.0L602.9 184.6L604.9 167.7L606.9 153.7L608.9 144.3L611.0 138.9L613.0 137.2L615.0 140.0L617.0 145.3L619.1 151.5L621.1 155.9L623.1 155.6L625.1 152.9L627.2 149.8L629.2 147.2L631.2 143.5L633.2 139.4L635.3 135.6L637.3 133.0L639.3 132.4L641.3 134.9L643.4 140.0L645.4 147.4L647.4 155.4L649.4 163.1L651.5 170.9L653.5 178.5L655.5 185.5L657.6 192.7L659.6 199.8L661.6 206.6L663.6 213.9L665.7 222.6L667.7 221.4L669.7 213.8L671.7 206.1L673.8 199.1L675.8 193.8L677.8 190.7L679.8 189.2L681.9 188.4L683.9 187.4L685.9 186.0L687.9 184.4L690.0 183.1L692.0 182.5L694.0 182.4L696.0 181.8L698.1 180.3L700.1 178.4L702.1 176.5L704.1 175.3L706.2 175.4L708.2 177.5L710.2 181.6L712.2 186.9L714.3 191.6L716.3 195.5L718.3 199.0L720.4 201.8L722.4 204.9L724.4 208.8L726.4 212.8L728.5 216.7L730.5 219.9L732.5 222.7L734.5 225.1L736.6 226.3L738.6 226.8L740.6 226.9L742.6 227.0L744.7 227.1L746.7 227.5L748.7 228.1L750.7 229.5L752.8 231.2L754.8 233.1L756.8 234.8L758.8 236.3L760.9 237.7L762.9 238.2L764.9 237.6L766.9 235.5L769.0 232.9L771.0 230.7L773.0 229.2L775.0 228.3L777.1 228.2L779.1 229.4L781.1 231.1L783.2 233.0L785.2 234.2L787.2 234.5L789.2 233.4L791.3 228.6L793.3 219.7L795.3 208.6L797.3 195.4L799.4 181.6L801.4 164.6L803.4 150.0L805.4 136.1L807.5 123.7L809.5 116.0L811.5 112.8L813.5 113.3L815.6 114.3L817.6 116.1L819.6 119.4L821.6 123.1L823.7 125.8L825.7 126.0L827.7 121.2L829.7 108.8L831.8 93.2L833.8 78.5L835.8 68.3L837.8 61.8L839.9 57.5L841.9 55.7L843.9 54.3L846.0 53.0L848.0 53.2L850.0 56.3L852.0 59.8L854.1 62.3L856.1 65.1L858.1 68.7L860.1 71.6L862.2 74.4L864.2 77.6L866.2 80.4L868.2 82.4L870.3 83.4L872.3 84.4L874.3 85.3L876.3 86.4L878.4 87.2L880.4 86.7L882.4 82.7L884.4 75.8L886.5 66.8L888.5 56.2L890.5 47.4L892.5 42.2L894.6 43.1L896.6 48.7L898.6 54.8L900.6 59.7L902.7 62.8L904.7 65.7L906.7 67.5L908.8 69.1L910.8 71.7L912.8 74.9L914.8 78.4L916.9 83.2L918.9 88.1L920.9 92.4L922.9 95.7L925.0 98.1L927.0 99.4L929.0 99.6L931.0 98.9L933.1 97.3L935.1 95.4L937.1 93.3L939.1 91.7L941.2 90.9L943.2 91.9L945.2 94.0L947.2 96.3L949.3 98.2L951.3 99.9L953.3 102.4L955.3 106.7L957.4 112.1L959.4 116.9L961.4 121.1L963.4 122.8L965.5 121.7L967.5 119.5L969.5 117.3L971.6 116.0L973.6 115.4L975.6 115.8L977.6 116.5L979.7 117.4L981.7 118.0L983.7 118.2L985.7 118.0L987.8 118.2L989.8 118.5L991.8 118.4L993.8 117.9L995.9 117.1L997.9 116.3L999.9 116.1L1001.9 117.8L1004.0 120.3L1006.0 123.7L1008.0 127.6L1010.0 131.4L1012.1 134.3L1014.1 134.1L1016.1 132.0L1018.1 129.4L1020.2 125.9L1022.2 121.9L1024.2 116.8L1026.2 111.3L1028.3 105.6L1030.3 102.0L1032.3 99.6L1034.4 98.8L1036.4 98.3L1038.4 97.8L1040.4 97.4L1042.5 97.8L1044.5 98.5L1046.5 99.3L1048.5 99.8L1050.6 100.1L1052.6 100.1" stroke="#3a6fa6" stroke-width="1.15" fill="none" stroke-linejoin="round"/>
<path d="M118.7 374.9L120.7 374.3L122.7 373.7L124.8 373.0L126.8 372.2L128.8 371.3L130.8 370.1L132.9 368.7L134.9 367.2L136.9 365.7L138.9 364.2L141.0 362.7L143.0 361.3L145.0 359.8L147.1 358.4L149.1 357.1L151.1 355.8L153.1 354.7L155.2 353.8L157.2 353.2L159.2 352.8L161.2 352.5L163.3 352.4L165.3 352.3L167.3 352.3L169.3 352.4L171.4 352.5L173.4 352.5L175.4 352.6L177.4 352.7L179.5 353.0L181.5 353.5L183.5 354.2L185.5 355.1L187.6 356.0L189.6 356.9L191.6 357.9L193.6 358.9L195.7 359.8L197.7 360.6L199.7 361.2L201.7 361.6L203.8 361.9L205.8 362.1L207.8 362.2L209.9 362.2L211.9 362.1L213.9 362.0L215.9 361.8L218.0 361.7L220.0 361.6L222.0 361.4L224.0 361.3L226.1 361.1L228.1 360.9L230.1 360.7L232.1 360.5L234.2 360.4L236.2 360.5L238.2 360.7L240.2 361.1L242.3 361.5L244.3 361.9L246.3 362.4L248.3 363.0L250.4 363.7L252.4 364.4L254.4 365.1L256.4 365.7L258.5 366.4L260.5 366.9L262.5 367.5L264.5 368.0L266.6 368.5L268.6 369.0L270.6 369.5L272.7 370.0L274.7 370.5L276.7 371.0L278.7 371.5L280.8 372.0L282.8 372.5L284.8 373.0L286.8 373.5L288.9 374.0L290.9 374.5L292.9 374.8L294.9 375.1L297.0 375.3L299.0 375.5L301.0 375.9L303.0 376.3L305.1 376.8L307.1 377.2L309.1 377.8L311.1 378.3L313.2 378.8L315.2 379.3L317.2 379.8L319.2 380.3L321.3 380.8L323.3 381.3L325.3 381.7L327.3 382.0L329.4 382.3L331.4 382.3L333.4 382.1L335.5 381.9L337.5 381.7L339.5 381.4L341.5 381.1L343.6 380.9L345.6 380.7L347.6 380.5L349.6 380.3L351.7 380.2L353.7 380.1L355.7 380.0L357.7 379.9L359.8 379.9L361.8 379.9L363.8 380.0L365.8 380.0L367.9 380.1L369.9 380.1L371.9 380.2L373.9 380.3L376.0 380.4L378.0 380.5L380.0 380.6L382.0 380.7L384.1 380.8L386.1 380.9L388.1 381.0L390.1 381.2L392.2 381.3L394.2 381.4L396.2 381.5L398.3 381.6L400.3 381.6L402.3 381.7L404.3 381.8L406.4 381.7L408.4 381.6L410.4 381.2L412.4 380.6L414.5 380.0L416.5 379.4L418.5 378.9L420.5 378.3L422.6 377.6L424.6 376.9L426.6 376.2L428.6 375.4L430.7 374.7L432.7 374.0L434.7 373.2L436.7 372.5L438.8 371.8L440.8 371.1L442.8 370.5L444.8 369.9L446.9 369.4L448.9 369.0L450.9 368.6L452.9 368.2L455.0 367.7L457.0 367.3L459.0 366.8L461.1 366.3L463.1 365.8L465.1 365.3L467.1 364.8L469.2 364.4L471.2 364.0L473.2 363.6L475.2 363.2L477.3 362.8L479.3 362.4L481.3 362.1L483.3 361.8L485.4 361.5L487.4 361.1L489.4 360.7L491.4 360.1L493.5 359.5L495.5 358.8L497.5 358.1L499.5 357.4L501.6 356.7L503.6 356.0L505.6 355.2L507.6 354.5L509.7 353.8L511.7 352.9L513.7 351.9L515.7 350.8L517.8 349.6L519.8 348.4L521.8 347.3L523.9 346.3L525.9 345.5L527.9 344.8L529.9 344.0L532.0 343.3L534.0 342.6L536.0 342.0L538.0 341.4L540.1 341.1L542.1 340.9L544.1 340.8L546.1 340.6L548.2 340.5L550.2 340.4L552.2 340.3L554.2 340.1L556.3 339.9L558.3 339.5L560.3 338.8L562.3 337.9L564.4 336.9L566.4 335.8L568.4 334.4L570.4 332.7L572.5 330.6L574.5 328.1L576.5 325.1L578.5 321.6L580.6 317.6L582.6 313.4L584.6 308.8L586.6 303.7L588.7 298.4L590.7 293.0L592.7 287.5L594.8 281.7L596.8 275.2L598.8 267.9L600.8 260.0L602.9 252.0L604.9 243.9L606.9 235.7L608.9 227.7L611.0 220.0L613.0 213.1L615.0 206.8L617.0 201.1L619.1 195.4L621.1 189.6L623.1 183.5L625.1 177.1L627.2 170.6L629.2 164.3L631.2 158.7L633.2 153.9L635.3 150.2L637.3 147.6L639.3 146.0L641.3 145.2L643.4 145.2L645.4 145.9L647.4 147.1L649.4 148.6L651.5 150.4L653.5 152.4L655.5 154.4L657.6 156.5L659.6 158.8L661.6 161.4L663.6 164.4L665.7 167.7L667.7 171.1L669.7 174.7L671.7 178.2L673.8 181.7L675.8 185.1L677.8 187.9L679.8 190.0L681.9 191.7L683.9 193.1L685.9 194.2L687.9 195.1L690.0 195.6L692.0 195.7L694.0 195.5L696.0 194.7L698.1 193.4L700.1 191.6L702.1 189.8L704.1 188.0L706.2 186.4L708.2 185.1L710.2 184.2L712.2 183.9L714.3 184.1L716.3 184.5L718.3 185.2L720.4 186.2L722.4 187.4L724.4 188.9L726.4 190.7L728.5 192.7L730.5 194.8L732.5 197.0L734.5 199.3L736.6 201.5L738.6 203.8L740.6 206.1L742.6 208.3L744.7 210.4L746.7 212.5L748.7 214.5L750.7 216.4L752.8 218.3L754.8 220.1L756.8 222.0L758.8 223.9L760.9 225.8L762.9 227.7L764.9 229.3L766.9 230.6L769.0 231.6L771.0 232.2L773.0 232.5L775.0 232.7L777.1 232.8L779.1 232.9L781.1 233.1L783.2 233.5L785.2 233.7L787.2 233.6L789.2 233.1L791.3 231.8L793.3 229.6L795.3 226.8L797.3 223.4L799.4 219.4L801.4 215.0L803.4 210.4L805.4 205.5L807.5 200.5L809.5 195.5L811.5 190.4L813.5 185.1L815.6 179.6L817.6 173.7L819.6 167.4L821.6 160.9L823.7 154.2L825.7 147.0L827.7 139.6L829.7 132.3L831.8 125.3L833.8 119.0L835.8 113.1L837.8 107.4L839.9 101.9L841.9 96.8L843.9 92.5L846.0 88.8L848.0 85.7L850.0 83.1L852.0 80.9L854.1 78.7L856.1 76.5L858.1 74.3L860.1 72.0L862.2 69.9L864.2 68.1L866.2 66.6L868.2 65.9L870.3 65.8L872.3 66.4L874.3 67.4L876.3 68.7L878.4 70.1L880.4 71.3L882.4 72.1L884.4 72.5L886.5 72.5L888.5 72.0L890.5 71.2L892.5 70.3L894.6 69.4L896.6 68.4L898.6 67.6L900.6 67.0L902.7 66.7L904.7 66.6L906.7 66.6L908.8 66.6L910.8 66.7L912.8 66.7L914.8 66.8L916.9 67.0L918.9 67.3L920.9 68.0L922.9 69.1L925.0 70.9L927.0 73.4L929.0 76.3L931.0 79.3L933.1 82.2L935.1 84.5L937.1 86.2L939.1 87.5L941.2 88.5L943.2 89.6L945.2 90.9L947.2 92.5L949.3 94.4L951.3 96.3L953.3 98.3L955.3 100.3L957.4 102.2L959.4 103.9L961.4 105.4L963.4 106.6L965.5 107.7L967.5 108.7L969.5 109.4L971.6 110.0L973.6 110.6L975.6 111.4L977.6 112.3L979.7 113.3L981.7 114.4L983.7 115.4L985.7 116.3L987.8 117.0L989.8 117.5L991.8 117.6L993.8 117.7L995.9 117.7L997.9 117.7L999.9 117.8L1001.9 118.0L1004.0 118.3L1006.0 118.8L1008.0 119.4L1010.0 120.3L1012.1 121.2L1014.1 122.0L1016.1 122.7L1018.1 123.0L1020.2 122.9L1022.2 122.4L1024.2 121.5L1026.2 120.5L1028.3 119.5L1030.3 118.5L1032.3 117.5L1034.4 116.4L1036.4 115.4L1038.4 114.4L1040.4 113.4L1042.5 112.4L1044.5 111.3L1046.5 110.1L1048.5 108.7L1050.6 107.4L1052.6 106.3" stroke="#ea8a38" stroke-width="1.15" fill="none" stroke-linejoin="round"/>
<path d="M199.7 362.7L201.7 362.3L203.8 361.8L205.8 361.3L207.8 360.8L209.9 360.4L211.9 360.0L213.9 359.7L215.9 359.4L218.0 359.2L220.0 359.0L222.0 358.8L224.0 358.6L226.1 358.5L228.1 358.4L230.1 358.3L232.1 358.3L234.2 358.3L236.2 358.3L238.2 358.4L240.2 358.4L242.3 358.5L244.3 358.6L246.3 358.7L248.3 358.8L250.4 359.0L252.4 359.2L254.4 359.5L256.4 359.8L258.5 360.2L260.5 360.6L262.5 361.0L264.5 361.4L266.6 361.8L268.6 362.2L270.6 362.6L272.7 363.0L274.7 363.4L276.7 363.8L278.7 364.2L280.8 364.6L282.8 365.0L284.8 365.4L286.8 365.7L288.9 366.0L290.9 366.2L292.9 366.4L294.9 366.5L297.0 366.7L299.0 366.9L301.0 367.2L303.0 367.5L305.1 367.8L307.1 368.1L309.1 368.5L311.1 368.8L313.2 369.2L315.2 369.6L317.2 369.9L319.2 370.3L321.3 370.7L323.3 371.0L325.3 371.3L327.3 371.6L329.4 371.9L331.4 372.3L333.4 372.6L335.5 372.9L337.5 373.2L339.5 373.5L341.5 373.8L343.6 374.1L345.6 374.4L347.6 374.7L349.6 375.0L351.7 375.3L353.7 375.6L355.7 375.9L357.7 376.2L359.8 376.5L361.8 376.8L363.8 377.1L365.8 377.4L367.9 377.7L369.9 378.0L371.9 378.3L373.9 378.6L376.0 378.9L378.0 379.2L380.0 379.5L382.0 379.8L384.1 380.1L386.1 380.3L388.1 380.6L390.1 380.8L392.2 381.0L394.2 381.2L396.2 381.3L398.3 381.5L400.3 381.6L402.3 381.7L404.3 381.8L406.4 381.9L408.4 381.9L410.4 381.8L412.4 381.6L414.5 381.4L416.5 381.1L418.5 380.8L420.5 380.6L422.6 380.4L424.6 380.2L426.6 380.1L428.6 379.9L430.7 379.7L432.7 379.5L434.7 379.3L436.7 379.0L438.8 378.7L440.8 378.4L442.8 378.1L444.8 377.8L446.9 377.5L448.9 377.2L450.9 376.9L452.9 376.6L455.0 376.3L457.0 376.0L459.0 375.7L461.1 375.4L463.1 375.1L465.1 374.8L467.1 374.5L469.2 374.1L471.2 373.8L473.2 373.5L475.2 373.2L477.3 372.9L479.3 372.5L481.3 372.2L483.3 371.8L485.4 371.4L487.4 370.9L489.4 370.4L491.4 369.9L493.5 369.3L495.5 368.7L497.5 368.1L499.5 367.5L501.6 366.9L503.6 366.3L505.6 365.7L507.6 365.1L509.7 364.5L511.7 363.9L513.7 363.3L515.7 362.7L517.8 362.1L519.8 361.5L521.8 360.9L523.9 360.2L525.9 359.6L527.9 359.1L529.9 358.5L532.0 358.0L534.0 357.5L536.0 357.0L538.0 356.5L540.1 356.0L542.1 355.5L544.1 355.0L546.1 354.5L548.2 354.1L550.2 353.6L552.2 353.1L554.2 352.6L556.3 352.1L558.3 351.6L560.3 351.1L562.3 350.5L564.4 349.8L566.4 349.0L568.4 347.9L570.4 346.7L572.5 345.5L574.5 344.3L576.5 342.9L578.5 341.6L580.6 340.1L582.6 338.5L584.6 336.8L586.6 335.0L588.7 333.0L590.7 330.9L592.7 328.6L594.8 326.2L596.8 323.5L598.8 320.8L600.8 317.9L602.9 314.8L604.9 311.6L606.9 308.3L608.9 305.0L611.0 301.7L613.0 298.4L615.0 295.1L617.0 291.8L619.1 288.5L621.1 285.3L623.1 282.1L625.1 278.8L627.2 275.6L629.2 272.3L631.2 269.1L633.2 265.8L635.3 262.4L637.3 258.9L639.3 255.3L641.3 251.6L643.4 248.0L645.4 244.6L647.4 241.3L649.4 238.3L651.5 235.4L653.5 232.7L655.5 230.2L657.6 227.9L659.6 225.7L661.6 223.5L663.6 221.1L665.7 218.5L667.7 215.5L669.7 212.4L671.7 209.3L673.8 206.3L675.8 203.4L677.8 200.7L679.8 198.2L681.9 195.6L683.9 193.0L685.9 190.2L687.9 187.6L690.0 185.5L692.0 184.3L694.0 183.6L696.0 183.1L698.1 182.4L700.1 181.3L702.1 180.1L704.1 178.8L706.2 177.5L708.2 176.5L710.2 175.6L712.2 175.1L714.3 174.8L716.3 174.8L718.3 175.1L720.4 175.6L722.4 176.4L724.4 177.3L726.4 178.3L728.5 179.3L730.5 180.3L732.5 181.4L734.5 182.5L736.6 183.8L738.6 185.0L740.6 186.4L742.6 187.9L744.7 189.4L746.7 191.0L748.7 192.7L750.7 194.4L752.8 196.1L754.8 197.9L756.8 199.6L758.8 201.3L760.9 202.8L762.9 204.2L764.9 205.5L766.9 206.6L769.0 207.5L771.0 208.3L773.0 208.9L775.0 209.4L777.1 209.8L779.1 210.1L781.1 210.4L783.2 210.7L785.2 210.9L787.2 211.0L789.2 211.1L791.3 211.0L793.3 210.9L795.3 210.6L797.3 210.2L799.4 209.6L801.4 209.0L803.4 208.3L805.4 207.5L807.5 206.7L809.5 205.8L811.5 205.0L813.5 204.0L815.6 203.0L817.6 201.9L819.6 200.7L821.6 199.5L823.7 198.2L825.7 196.8L827.7 195.3L829.7 193.7L831.8 191.9L833.8 189.9L835.8 187.7L837.8 185.3L839.9 182.8L841.9 180.2L843.9 177.7L846.0 175.3L848.0 172.8L850.0 170.4L852.0 167.9L854.1 165.5L856.1 163.0L858.1 160.5L860.1 157.9L862.2 155.3L864.2 152.6L866.2 150.0L868.2 147.5L870.3 145.0L872.3 142.6L874.3 140.0L876.3 137.5L878.4 134.8L880.4 132.2L882.4 129.5L884.4 126.7L886.5 123.8L888.5 120.7L890.5 117.6L892.5 114.5L894.6 111.5L896.6 108.6L898.6 105.9L900.6 103.3L902.7 100.6L904.7 98.0L906.7 95.3L908.8 92.7L910.8 90.2L912.8 87.8L914.8 85.5L916.9 83.5L918.9 81.9L920.9 80.8L922.9 80.0L925.0 79.4L927.0 78.9L929.0 78.5L931.0 78.1L933.1 77.8L935.1 77.4L937.1 77.1L939.1 76.7L941.2 76.4L943.2 76.1L945.2 76.0L947.2 76.1L949.3 76.4L951.3 77.0L953.3 77.7L955.3 78.5L957.4 79.3L959.4 80.1L961.4 81.1L963.4 82.2L965.5 83.4L967.5 84.5L969.5 85.5L971.6 86.4L973.6 87.4L975.6 88.3L977.6 89.1L979.7 89.9L981.7 90.5L983.7 91.0L985.7 91.5L987.8 92.1L989.8 92.8L991.8 93.6L993.8 94.3L995.9 95.1L997.9 95.8L999.9 96.5L1001.9 97.2L1004.0 98.1L1006.0 99.1L1008.0 100.3L1010.0 101.6L1012.1 103.0L1014.1 104.3L1016.1 105.4L1018.1 106.3L1020.2 107.2L1022.2 107.9L1024.2 108.5L1026.2 109.0L1028.3 109.4L1030.3 109.7L1032.3 109.8L1034.4 110.0L1036.4 110.1L1038.4 110.2L1040.4 110.3L1042.5 110.4L1044.5 110.5L1046.5 110.6L1048.5 110.7L1050.6 110.9L1052.6 111.0" stroke="#388a38" stroke-width="1.15" fill="none" stroke-linejoin="round"/>
<path d="M93.37 533.3h2.026V555.7h-2.026zM95.39 533.3h2.026V555.7h-2.026zM99.45 527.5h2.026V555.7h-2.026zM101.47 518.0h2.026V555.7h-2.026zM103.50 517.3h2.026V555.7h-2.026zM105.52 526.8h2.026V555.7h-2.026zM107.55 521.0h2.026V555.7h-2.026zM109.57 517.3h2.026V555.7h-2.026zM111.60 522.4h2.026V555.7h-2.026zM113.63 510.8h2.026V555.7h-2.026zM115.65 498.4h2.026V555.7h-2.026zM117.68 509.3h2.026V555.7h-2.026zM121.73 529.7h2.026V555.7h-2.026zM123.75 525.3h2.026V555.7h-2.026zM125.78 515.1h2.026V555.7h-2.026zM129.83 524.6h2.026V555.7h-2.026zM133.88 538.4h2.026V555.7h-2.026zM135.91 533.3h2.026V555.7h-2.026zM137.94 516.6h2.026V555.7h-2.026zM139.96 529.7h2.026V555.7h-2.026zM174.40 538.4h2.026V555.7h-2.026zM176.43 542.0h2.026V555.7h-2.026zM186.55 541.3h2.026V555.7h-2.026zM188.58 538.0h2.026V555.7h-2.026zM194.66 531.9h2.026V555.7h-2.026zM196.68 538.0h2.026V555.7h-2.026zM200.74 533.3h2.026V555.7h-2.026zM208.84 540.8h2.026V555.7h-2.026zM214.92 544.1h2.026V555.7h-2.026zM216.94 547.4h2.026V555.7h-2.026zM257.46 548.8h2.026V555.7h-2.026zM259.48 548.4h2.026V555.7h-2.026zM261.51 546.5h2.026V555.7h-2.026zM265.56 547.4h2.026V555.7h-2.026zM267.59 547.4h2.026V555.7h-2.026zM273.66 552.1h2.026V555.7h-2.026zM279.74 550.2h2.026V555.7h-2.026zM283.79 548.4h2.026V555.7h-2.026zM291.90 547.4h2.026V555.7h-2.026zM295.95 545.1h2.026V555.7h-2.026zM302.03 547.4h2.026V555.7h-2.026zM330.39 537.1h2.026V555.7h-2.026zM346.59 549.3h2.026V555.7h-2.026zM348.62 539.0h2.026V555.7h-2.026zM350.64 545.5h2.026V555.7h-2.026zM352.67 529.1h2.026V555.7h-2.026zM360.77 535.2h2.026V555.7h-2.026zM366.85 531.4h2.026V555.7h-2.026zM368.88 538.1h2.026V555.7h-2.026zM370.90 524.1h2.026V555.7h-2.026zM372.93 533.1h2.026V555.7h-2.026zM376.98 542.1h2.026V555.7h-2.026zM379.01 542.1h2.026V555.7h-2.026zM381.03 546.5h2.026V555.7h-2.026zM409.39 521.4h2.026V555.7h-2.026zM411.42 521.4h2.026V555.7h-2.026zM413.44 511.3h2.026V555.7h-2.026zM423.57 540.4h2.026V555.7h-2.026zM425.60 544.9h2.026V555.7h-2.026zM427.62 544.9h2.026V555.7h-2.026zM431.68 532.0h2.026V555.7h-2.026zM433.70 532.0h2.026V555.7h-2.026zM435.73 525.3h2.026V555.7h-2.026zM439.78 543.0h2.026V555.7h-2.026zM447.88 535.9h2.026V555.7h-2.026zM449.91 541.2h2.026V555.7h-2.026zM453.96 527.8h2.026V555.7h-2.026zM455.99 481.3h2.026V555.7h-2.026zM458.01 492.0h2.026V555.7h-2.026zM492.45 508.1h2.026V555.7h-2.026zM494.48 472.4h2.026V555.7h-2.026zM498.53 503.7h2.026V555.7h-2.026zM500.55 505.5h2.026V555.7h-2.026zM502.58 465.2h2.026V555.7h-2.026zM504.61 477.7h2.026V555.7h-2.026zM506.63 489.4h2.026V555.7h-2.026zM514.73 503.7h2.026V555.7h-2.026zM518.79 516.2h2.026V555.7h-2.026zM520.81 520.7h2.026V555.7h-2.026zM522.84 518.0h2.026V555.7h-2.026zM530.94 455.4h2.026V555.7h-2.026zM539.04 513.5h2.026V555.7h-2.026zM569.43 464.3h2.026V555.7h-2.026zM571.46 492.9h2.026V555.7h-2.026zM575.51 466.1h2.026V555.7h-2.026zM577.53 474.1h2.026V555.7h-2.026zM579.56 480.4h2.026V555.7h-2.026zM581.59 506.4h2.026V555.7h-2.026zM583.61 484.9h2.026V555.7h-2.026zM585.64 503.7h2.026V555.7h-2.026zM591.71 484.0h2.026V555.7h-2.026zM593.74 484.0h2.026V555.7h-2.026zM595.77 490.2h2.026V555.7h-2.026zM597.79 491.1h2.026V555.7h-2.026zM599.82 477.7h2.026V555.7h-2.026zM603.87 473.3h2.026V555.7h-2.026zM605.90 467.0h2.026V555.7h-2.026zM607.92 473.3h2.026V555.7h-2.026zM614.00 482.2h2.026V555.7h-2.026zM616.02 492.9h2.026V555.7h-2.026zM618.05 497.4h2.026V555.7h-2.026zM664.64 488.9h2.026V555.7h-2.026zM666.67 494.0h2.026V555.7h-2.026zM668.69 483.1h2.026V555.7h-2.026zM674.77 499.1h2.026V555.7h-2.026zM676.80 512.2h2.026V555.7h-2.026zM680.85 515.1h2.026V555.7h-2.026zM684.90 499.1h2.026V555.7h-2.026zM693.00 514.4h2.026V555.7h-2.026zM695.03 519.5h2.026V555.7h-2.026zM731.49 538.1h2.026V555.7h-2.026zM735.55 543.8h2.026V555.7h-2.026zM737.57 539.3h2.026V555.7h-2.026zM739.60 531.4h2.026V555.7h-2.026zM743.65 537.0h2.026V555.7h-2.026zM747.70 539.3h2.026V555.7h-2.026zM753.78 544.3h2.026V555.7h-2.026zM757.83 544.3h2.026V555.7h-2.026zM763.91 543.8h2.026V555.7h-2.026zM765.93 516.9h2.026V555.7h-2.026zM767.96 521.4h2.026V555.7h-2.026zM772.01 531.4h2.026V555.7h-2.026zM774.04 534.2h2.026V555.7h-2.026zM780.11 541.0h2.026V555.7h-2.026zM814.55 482.8h2.026V555.7h-2.026zM816.58 451.0h2.026V555.7h-2.026zM822.66 496.1h2.026V555.7h-2.026zM824.68 483.6h2.026V555.7h-2.026zM826.71 456.8h2.026V555.7h-2.026zM828.73 468.6h2.026V555.7h-2.026zM830.76 424.2h2.026V555.7h-2.026zM834.81 471.1h2.026V555.7h-2.026zM836.84 473.6h2.026V555.7h-2.026zM838.86 446.0h2.026V555.7h-2.026zM842.91 486.9h2.026V555.7h-2.026zM848.99 492.0h2.026V555.7h-2.026zM853.04 500.3h2.026V555.7h-2.026zM855.07 496.1h2.026V555.7h-2.026zM895.58 518.6h2.026V555.7h-2.026zM899.64 520.5h2.026V555.7h-2.026zM905.71 531.5h2.026V555.7h-2.026zM907.74 521.2h2.026V555.7h-2.026zM909.77 525.0h2.026V555.7h-2.026zM913.82 528.3h2.026V555.7h-2.026zM917.87 514.7h2.026V555.7h-2.026zM925.97 534.3h2.026V555.7h-2.026zM932.05 528.6h2.026V555.7h-2.026zM934.07 528.6h2.026V555.7h-2.026zM936.10 529.5h2.026V555.7h-2.026zM938.13 535.8h2.026V555.7h-2.026zM970.54 543.4h2.026V555.7h-2.026zM972.56 518.1h2.026V555.7h-2.026zM978.64 539.1h2.026V555.7h-2.026zM980.67 542.4h2.026V555.7h-2.026zM982.69 538.1h2.026V555.7h-2.026zM990.80 530.5h2.026V555.7h-2.026zM992.82 531.5h2.026V555.7h-2.026zM994.85 533.4h2.026V555.7h-2.026zM998.90 543.4h2.026V555.7h-2.026zM1002.95 535.3h2.026V555.7h-2.026zM1009.03 543.1h2.026V555.7h-2.026zM1013.08 548.2h2.026V555.7h-2.026zM1015.11 517.3h2.026V555.7h-2.026zM1019.16 546.9h2.026V555.7h-2.026zM1021.18 521.2h2.026V555.7h-2.026zM1049.55 521.2h2.026V555.7h-2.026z" fill="#b82b55" stroke="#6e2a52" stroke-width="0.45"/>
<path d="M97.42 536.2h2.026V555.7h-2.026zM119.70 511.5h2.026V555.7h-2.026zM127.81 528.2h2.026V555.7h-2.026zM131.86 519.5h2.026V555.7h-2.026zM141.99 527.5h2.026V555.7h-2.026zM170.35 541.3h2.026V555.7h-2.026zM172.37 546.4h2.026V555.7h-2.026zM178.45 544.1h2.026V555.7h-2.026zM180.48 545.5h2.026V555.7h-2.026zM182.50 543.2h2.026V555.7h-2.026zM184.53 538.0h2.026V555.7h-2.026zM190.61 546.5h2.026V555.7h-2.026zM192.63 549.3h2.026V555.7h-2.026zM198.71 543.2h2.026V555.7h-2.026zM202.76 529.1h2.026V555.7h-2.026zM204.79 543.6h2.026V555.7h-2.026zM206.81 543.2h2.026V555.7h-2.026zM210.86 542.2h2.026V555.7h-2.026zM212.89 548.4h2.026V555.7h-2.026zM218.97 537.1h2.026V555.7h-2.026zM220.99 546.0h2.026V555.7h-2.026zM251.38 548.4h2.026V555.7h-2.026zM253.41 542.2h2.026V555.7h-2.026zM255.43 550.2h2.026V555.7h-2.026zM263.53 544.1h2.026V555.7h-2.026zM269.61 550.2h2.026V555.7h-2.026zM271.64 548.4h2.026V555.7h-2.026zM275.69 546.0h2.026V555.7h-2.026zM277.72 548.4h2.026V555.7h-2.026zM281.77 548.4h2.026V555.7h-2.026zM285.82 548.4h2.026V555.7h-2.026zM287.84 548.4h2.026V555.7h-2.026zM289.87 541.3h2.026V555.7h-2.026zM293.92 548.4h2.026V555.7h-2.026zM297.97 546.5h2.026V555.7h-2.026zM300.00 547.4h2.026V555.7h-2.026zM332.41 501.9h2.026V555.7h-2.026zM334.44 531.0h2.026V555.7h-2.026zM336.46 533.3h2.026V555.7h-2.026zM338.49 538.0h2.026V555.7h-2.026zM340.52 541.8h2.026V555.7h-2.026zM342.54 545.1h2.026V555.7h-2.026zM344.57 548.4h2.026V555.7h-2.026zM354.70 536.1h2.026V555.7h-2.026zM356.72 537.1h2.026V555.7h-2.026zM358.75 542.7h2.026V555.7h-2.026zM362.80 534.3h2.026V555.7h-2.026zM364.82 543.2h2.026V555.7h-2.026zM374.95 542.1h2.026V555.7h-2.026zM415.47 507.4h2.026V555.7h-2.026zM417.50 521.4h2.026V555.7h-2.026zM419.52 534.2h2.026V555.7h-2.026zM421.55 534.2h2.026V555.7h-2.026zM429.65 543.2h2.026V555.7h-2.026zM437.75 529.8h2.026V555.7h-2.026zM441.81 538.5h2.026V555.7h-2.026zM443.83 536.8h2.026V555.7h-2.026zM445.86 537.7h2.026V555.7h-2.026zM451.93 537.7h2.026V555.7h-2.026zM460.04 516.2h2.026V555.7h-2.026zM462.06 518.9h2.026V555.7h-2.026zM490.42 546.6h2.026V555.7h-2.026zM496.50 498.3h2.026V555.7h-2.026zM508.66 502.8h2.026V555.7h-2.026zM510.68 516.2h2.026V555.7h-2.026zM512.71 521.6h2.026V555.7h-2.026zM516.76 497.4h2.026V555.7h-2.026zM524.86 526.0h2.026V555.7h-2.026zM526.89 540.3h2.026V555.7h-2.026zM528.91 455.4h2.026V555.7h-2.026zM532.97 465.2h2.026V555.7h-2.026zM534.99 496.5h2.026V555.7h-2.026zM537.02 505.5h2.026V555.7h-2.026zM541.07 516.2h2.026V555.7h-2.026zM573.48 461.6h2.026V555.7h-2.026zM587.66 505.5h2.026V555.7h-2.026zM589.69 511.7h2.026V555.7h-2.026zM601.84 470.6h2.026V555.7h-2.026zM609.95 523.4h2.026V555.7h-2.026zM611.97 491.1h2.026V555.7h-2.026zM620.08 498.4h2.026V555.7h-2.026zM648.44 515.1h2.026V555.7h-2.026zM650.46 514.4h2.026V555.7h-2.026zM652.49 514.4h2.026V555.7h-2.026zM654.51 529.7h2.026V555.7h-2.026zM656.54 534.0h2.026V555.7h-2.026zM658.57 528.2h2.026V555.7h-2.026zM660.59 547.1h2.026V555.7h-2.026zM662.62 509.3h2.026V555.7h-2.026zM670.72 506.4h2.026V555.7h-2.026zM672.75 522.4h2.026V555.7h-2.026zM678.82 523.9h2.026V555.7h-2.026zM682.88 524.6h2.026V555.7h-2.026zM686.93 512.9h2.026V555.7h-2.026zM688.95 529.7h2.026V555.7h-2.026zM690.98 530.4h2.026V555.7h-2.026zM697.06 515.1h2.026V555.7h-2.026zM699.08 527.5h2.026V555.7h-2.026zM729.47 538.1h2.026V555.7h-2.026zM733.52 539.3h2.026V555.7h-2.026zM741.62 543.2h2.026V555.7h-2.026zM745.68 532.0h2.026V555.7h-2.026zM749.73 544.3h2.026V555.7h-2.026zM751.75 538.1h2.026V555.7h-2.026zM755.80 544.9h2.026V555.7h-2.026zM759.86 525.3h2.026V555.7h-2.026zM761.88 538.1h2.026V555.7h-2.026zM769.98 530.3h2.026V555.7h-2.026zM776.06 538.1h2.026V555.7h-2.026zM778.09 534.2h2.026V555.7h-2.026zM782.14 541.5h2.026V555.7h-2.026zM810.50 478.6h2.026V555.7h-2.026zM812.53 487.8h2.026V555.7h-2.026zM818.60 451.8h2.026V555.7h-2.026zM820.63 493.6h2.026V555.7h-2.026zM832.78 451.0h2.026V555.7h-2.026zM840.89 452.7h2.026V555.7h-2.026zM844.94 471.9h2.026V555.7h-2.026zM846.97 477.7h2.026V555.7h-2.026zM851.02 487.8h2.026V555.7h-2.026zM857.09 506.4h2.026V555.7h-2.026zM859.12 491.6h2.026V555.7h-2.026zM891.53 447.6h2.026V555.7h-2.026zM893.56 490.3h2.026V555.7h-2.026zM897.61 513.5h2.026V555.7h-2.026zM901.66 521.2h2.026V555.7h-2.026zM903.69 525.7h2.026V555.7h-2.026zM911.79 525.0h2.026V555.7h-2.026zM915.84 531.5h2.026V555.7h-2.026zM919.89 530.2h2.026V555.7h-2.026zM921.92 535.3h2.026V555.7h-2.026zM923.95 532.4h2.026V555.7h-2.026zM928.00 538.1h2.026V555.7h-2.026zM930.02 540.0h2.026V555.7h-2.026zM940.15 533.8h2.026V555.7h-2.026zM968.51 537.2h2.026V555.7h-2.026zM974.59 528.1h2.026V555.7h-2.026zM976.62 538.1h2.026V555.7h-2.026zM984.72 540.0h2.026V555.7h-2.026zM986.75 542.9h2.026V555.7h-2.026zM988.77 543.9h2.026V555.7h-2.026zM996.87 541.5h2.026V555.7h-2.026zM1000.93 540.0h2.026V555.7h-2.026zM1004.98 541.8h2.026V555.7h-2.026zM1007.00 541.1h2.026V555.7h-2.026zM1011.06 545.6h2.026V555.7h-2.026zM1017.13 536.0h2.026V555.7h-2.026zM1051.57 522.5h2.026V555.7h-2.026z" fill="#137f4e" stroke="#1d5652" stroke-width="0.45"/>
<path d="M79.19 536.2h2.026V555.7h-2.026zM81.21 539.9h2.026V555.7h-2.026zM83.24 545.0h2.026V555.7h-2.026zM85.26 546.4h2.026V555.7h-2.026zM87.29 544.2h2.026V555.7h-2.026zM89.32 544.2h2.026V555.7h-2.026zM91.34 544.2h2.026V555.7h-2.026zM144.01 514.4h2.026V555.7h-2.026zM146.04 523.9h2.026V555.7h-2.026zM148.06 483.1h2.026V555.7h-2.026zM150.09 513.7h2.026V555.7h-2.026zM152.12 525.3h2.026V555.7h-2.026zM154.14 525.3h2.026V555.7h-2.026zM156.17 535.5h2.026V555.7h-2.026zM158.19 526.0h2.026V555.7h-2.026zM160.22 539.1h2.026V555.7h-2.026zM162.24 525.3h2.026V555.7h-2.026zM164.27 536.2h2.026V555.7h-2.026zM166.30 541.3h2.026V555.7h-2.026zM168.32 541.3h2.026V555.7h-2.026zM223.02 548.4h2.026V555.7h-2.026zM225.04 548.4h2.026V555.7h-2.026zM227.07 549.3h2.026V555.7h-2.026zM229.10 546.9h2.026V555.7h-2.026zM231.12 546.0h2.026V555.7h-2.026zM233.15 549.3h2.026V555.7h-2.026zM235.17 549.3h2.026V555.7h-2.026zM237.20 549.3h2.026V555.7h-2.026zM239.23 552.1h2.026V555.7h-2.026zM241.25 549.3h2.026V555.7h-2.026zM243.28 550.2h2.026V555.7h-2.026zM245.30 544.1h2.026V555.7h-2.026zM247.33 540.8h2.026V555.7h-2.026zM249.35 544.6h2.026V555.7h-2.026zM304.05 550.2h2.026V555.7h-2.026zM306.08 551.2h2.026V555.7h-2.026zM308.10 551.2h2.026V555.7h-2.026zM310.13 549.3h2.026V555.7h-2.026zM312.15 549.3h2.026V555.7h-2.026zM314.18 549.3h2.026V555.7h-2.026zM316.21 552.1h2.026V555.7h-2.026zM318.23 548.4h2.026V555.7h-2.026zM320.26 550.2h2.026V555.7h-2.026zM322.28 550.2h2.026V555.7h-2.026zM324.31 548.4h2.026V555.7h-2.026zM326.33 551.2h2.026V555.7h-2.026zM328.36 545.1h2.026V555.7h-2.026zM383.06 548.2h2.026V555.7h-2.026zM385.08 548.2h2.026V555.7h-2.026zM387.11 549.4h2.026V555.7h-2.026zM389.13 548.8h2.026V555.7h-2.026zM391.16 550.5h2.026V555.7h-2.026zM393.19 549.9h2.026V555.7h-2.026zM395.21 550.5h2.026V555.7h-2.026zM397.24 550.5h2.026V555.7h-2.026zM399.26 546.0h2.026V555.7h-2.026zM401.29 548.2h2.026V555.7h-2.026zM403.32 549.9h2.026V555.7h-2.026zM405.34 539.3h2.026V555.7h-2.026zM407.37 534.2h2.026V555.7h-2.026zM464.09 509.0h2.026V555.7h-2.026zM466.11 523.4h2.026V555.7h-2.026zM468.14 535.0h2.026V555.7h-2.026zM470.17 538.5h2.026V555.7h-2.026zM472.19 539.5h2.026V555.7h-2.026zM474.22 539.5h2.026V555.7h-2.026zM476.24 530.5h2.026V555.7h-2.026zM478.27 525.1h2.026V555.7h-2.026zM480.30 539.5h2.026V555.7h-2.026zM482.32 538.5h2.026V555.7h-2.026zM484.35 534.1h2.026V555.7h-2.026zM486.37 540.3h2.026V555.7h-2.026zM488.40 541.2h2.026V555.7h-2.026zM543.10 532.3h2.026V555.7h-2.026zM545.12 527.8h2.026V555.7h-2.026zM547.15 509.9h2.026V555.7h-2.026zM549.17 502.8h2.026V555.7h-2.026zM551.20 497.4h2.026V555.7h-2.026zM553.22 502.8h2.026V555.7h-2.026zM555.25 486.7h2.026V555.7h-2.026zM557.28 497.4h2.026V555.7h-2.026zM559.30 501.0h2.026V555.7h-2.026zM561.33 472.4h2.026V555.7h-2.026zM563.35 484.9h2.026V555.7h-2.026zM565.38 488.5h2.026V555.7h-2.026zM567.40 493.8h2.026V555.7h-2.026zM622.10 503.5h2.026V555.7h-2.026zM624.13 504.9h2.026V555.7h-2.026zM626.15 488.2h2.026V555.7h-2.026zM628.18 507.9h2.026V555.7h-2.026zM630.20 506.4h2.026V555.7h-2.026zM632.23 475.1h2.026V555.7h-2.026zM634.26 482.4h2.026V555.7h-2.026zM636.28 498.4h2.026V555.7h-2.026zM638.31 509.3h2.026V555.7h-2.026zM640.33 490.4h2.026V555.7h-2.026zM642.36 518.0h2.026V555.7h-2.026zM644.39 521.0h2.026V555.7h-2.026zM646.41 519.5h2.026V555.7h-2.026zM701.11 527.5h2.026V555.7h-2.026zM703.13 528.2h2.026V555.7h-2.026zM705.16 528.2h2.026V555.7h-2.026zM707.19 532.6h2.026V555.7h-2.026zM709.21 535.9h2.026V555.7h-2.026zM711.24 537.6h2.026V555.7h-2.026zM713.26 532.0h2.026V555.7h-2.026zM715.29 535.9h2.026V555.7h-2.026zM717.31 543.2h2.026V555.7h-2.026zM719.34 542.1h2.026V555.7h-2.026zM721.37 535.9h2.026V555.7h-2.026zM723.39 534.2h2.026V555.7h-2.026zM725.42 534.2h2.026V555.7h-2.026zM727.44 531.4h2.026V555.7h-2.026zM784.17 542.1h2.026V555.7h-2.026zM786.19 532.0h2.026V555.7h-2.026zM788.22 466.0h2.026V555.7h-2.026zM790.24 506.2h2.026V555.7h-2.026zM792.27 461.0h2.026V555.7h-2.026zM794.29 468.6h2.026V555.7h-2.026zM796.32 414.2h2.026V555.7h-2.026zM798.35 435.9h2.026V555.7h-2.026zM800.37 414.2h2.026V555.7h-2.026zM802.40 439.3h2.026V555.7h-2.026zM804.42 446.0h2.026V555.7h-2.026zM806.45 425.9h2.026V555.7h-2.026zM808.48 455.2h2.026V555.7h-2.026zM861.15 514.1h2.026V555.7h-2.026zM863.17 523.8h2.026V555.7h-2.026zM865.20 447.6h2.026V555.7h-2.026zM867.22 488.4h2.026V555.7h-2.026zM869.25 500.0h2.026V555.7h-2.026zM871.27 510.2h2.026V555.7h-2.026zM873.30 499.3h2.026V555.7h-2.026zM875.33 519.3h2.026V555.7h-2.026zM877.35 527.0h2.026V555.7h-2.026zM879.38 511.5h2.026V555.7h-2.026zM881.40 510.2h2.026V555.7h-2.026zM883.43 488.4h2.026V555.7h-2.026zM885.46 487.8h2.026V555.7h-2.026zM887.48 421.7h2.026V555.7h-2.026zM889.51 461.9h2.026V555.7h-2.026zM942.18 532.9h2.026V555.7h-2.026zM944.20 526.2h2.026V555.7h-2.026zM946.23 535.3h2.026V555.7h-2.026zM948.26 541.9h2.026V555.7h-2.026zM950.28 537.2h2.026V555.7h-2.026zM952.31 540.5h2.026V555.7h-2.026zM954.33 543.9h2.026V555.7h-2.026zM956.36 539.1h2.026V555.7h-2.026zM958.38 543.9h2.026V555.7h-2.026zM960.41 545.8h2.026V555.7h-2.026zM962.44 543.4h2.026V555.7h-2.026zM964.46 533.4h2.026V555.7h-2.026zM966.49 537.2h2.026V555.7h-2.026zM1023.21 532.1h2.026V555.7h-2.026zM1025.24 529.5h2.026V555.7h-2.026zM1027.26 487.1h2.026V555.7h-2.026zM1029.29 511.5h2.026V555.7h-2.026zM1031.31 526.3h2.026V555.7h-2.026zM1033.34 530.2h2.026V555.7h-2.026zM1035.36 532.8h2.026V555.7h-2.026zM1037.39 527.0h2.026V555.7h-2.026zM1039.42 522.5h2.026V555.7h-2.026zM1041.44 521.2h2.026V555.7h-2.026zM1043.47 521.2h2.026V555.7h-2.026zM1045.49 523.8h2.026V555.7h-2.026zM1047.52 539.2h2.026V555.7h-2.026z" fill="#2b78b3" stroke="#2a6ea8" stroke-width="0.45"/>
</g>
<path d="M74.2 382.50H79.1 M74.2 300.00H79.1 M74.2 217.50H79.1 M74.2 135.00H79.1 M74.2 52.50H79.1 M74.2 525.45H79.1 M74.2 493.45H79.1 M74.2 461.45H79.1 M74.2 429.45H79.1 M80.20 557.0V561.8 M282.78 557.0V561.8 M485.36 557.0V561.8 M687.94 557.0V561.8 M890.52 557.0V561.8" stroke="#111" stroke-width="1.15" fill="none"/>
<g font-family="'DejaVu Sans', 'Liberation Sans', sans-serif" font-size="13.5" fill="#111" stroke="#111" stroke-width="0.2">
<text transform="translate(68.3,387.9) scale(0.955,1)" text-anchor="end" font-size="13.7">20</text>
<text transform="translate(68.3,305.4) scale(0.955,1)" text-anchor="end" font-size="13.7">40</text>
<text transform="translate(68.3,222.9) scale(0.955,1)" text-anchor="end" font-size="13.7">60</text>
<text transform="translate(68.3,140.4) scale(0.955,1)" text-anchor="end" font-size="13.7">80</text>
<text transform="translate(68.3,57.9) scale(0.955,1)" text-anchor="end" font-size="13.7">100</text>
<text transform="translate(68.3,530.9) scale(0.955,1)" text-anchor="end" font-size="13.7">10</text>
<text transform="translate(68.3,498.9) scale(0.955,1)" text-anchor="end" font-size="13.7">20</text>
<text transform="translate(68.3,466.9) scale(0.955,1)" text-anchor="end" font-size="13.7">30</text>
<text transform="translate(68.3,434.9) scale(0.955,1)" text-anchor="end" font-size="13.7">40</text>
<text transform="translate(79.2,576.7) rotate(-15)" text-anchor="middle" dominant-baseline="middle" font-size="13">0123</text>
<text transform="translate(281.8,576.7) rotate(-15)" text-anchor="middle" dominant-baseline="middle" font-size="13">0627</text>
<text transform="translate(484.4,576.7) rotate(-15)" text-anchor="middle" dominant-baseline="middle" font-size="13">1125</text>
<text transform="translate(686.9,576.7) rotate(-15)" text-anchor="middle" dominant-baseline="middle" font-size="13">0424</text>
<text transform="translate(889.5,576.7) rotate(-15)" text-anchor="middle" dominant-baseline="middle" font-size="13">0917</text>
<text transform="translate(33.6,207) rotate(-90)" text-anchor="middle">price</text>
<text transform="translate(20,479.5) rotate(-90)" text-anchor="middle">volume</text>
<text transform="translate(41.2,474) rotate(-90)" text-anchor="middle">10<tspan dy="-5" font-size="9.7">6</tspan></text>
</g>
<text x="520" y="57.1" text-anchor="middle" font-family="'DejaVu Sans', 'Liberation Sans', sans-serif" font-weight="bold" font-size="20.1" fill="#000" xml:space="preserve" style="white-space:pre">20260121 11:32:04   87.79 -1.84%</text>
</svg>
</body></html>
